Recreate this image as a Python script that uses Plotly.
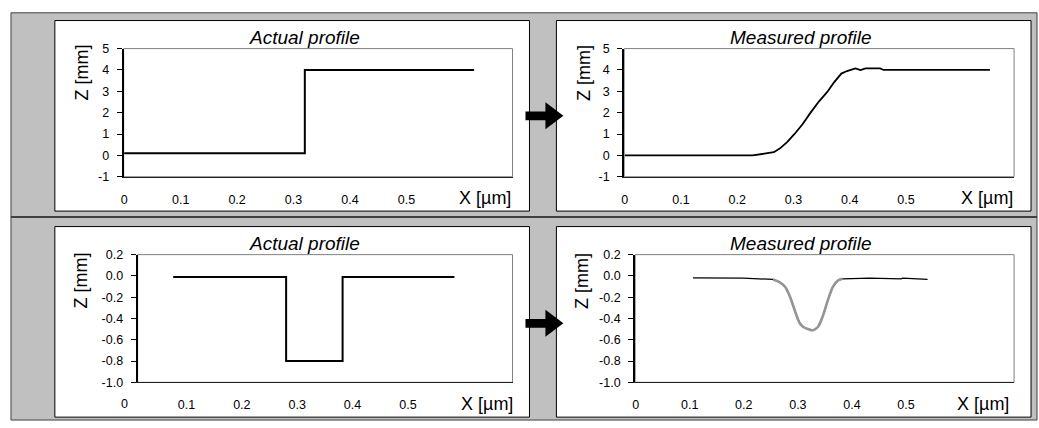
import plotly.graph_objects as go

# ---------------- data ----------------
actual_step_x = [0.0, 0.32, 0.32, 0.62]
actual_step_z = [0.1, 0.1, 4.0, 4.0]

measured_step_x = [0.0, 0.227, 0.248, 0.265, 0.276, 0.289, 0.301, 0.316, 0.330, 0.345,
                   0.360, 0.372, 0.385, 0.395, 0.410, 0.419, 0.428, 0.454, 0.460, 0.649]
measured_step_z = [0.0, 0.0, 0.08, 0.15, 0.33, 0.63, 0.98, 1.46, 1.99, 2.52,
                   2.97, 3.42, 3.83, 3.95, 4.07, 3.99, 4.07, 4.07, 4.0, 4.0]

actual_groove_x = [0.076, 0.28, 0.28, 0.382, 0.382, 0.584]
actual_groove_z = [-0.01, -0.01, -0.80, -0.80, -0.01, -0.01]

measured_groove_x = [0.106, 0.199, 0.254, 0.266, 0.276, 0.285, 0.294, 0.303, 0.310, 0.319,
                     0.328, 0.337, 0.346, 0.356, 0.365, 0.374, 0.383, 0.433, 0.491, 0.494, 0.540]
measured_groove_z = [-0.018, -0.021, -0.033, -0.058, -0.10, -0.19, -0.32, -0.44, -0.48, -0.50,
                     -0.51, -0.48, -0.38, -0.22, -0.10, -0.043, -0.027, -0.021, -0.027, -0.021, -0.033]

x_tick_vals = [0, 0.1, 0.2, 0.3, 0.4, 0.5]
x_tick_text = ["0", "0.1", "0.2", "0.3", "0.4", "0.5"]
top_y_vals = [-1, 0, 1, 2, 3, 4, 5]
top_y_text = ["-1", "0", "1", "2", "3", "4", "5"]
bot_y_vals = [-1.0, -0.8, -0.6, -0.4, -0.2, 0.0, 0.2]
bot_y_text = ["-1.0", "-0.8", "-0.6", "-0.4", "-0.2", "0.0", "0.2"]

titles = ["Actual profile", "Measured profile", "Actual profile", "Measured profile"]
z_label = "Z [mm]"
x_label = "X [\u00b5m]"

# ---------------- layout helpers ----------------
W, H = 1039, 428
def px(x):
    return x / W
def py(y):
    return 1 - y / H

FONT = "Arial, Liberation Sans, Helvetica, sans-serif"
GRAY = "#c0c0c0"

fig = go.Figure()

fig.add_trace(go.Scatter(x=actual_step_x, y=actual_step_z, mode="lines",
                         line=dict(color="black", width=2), xaxis="x", yaxis="y", showlegend=False))
fig.add_trace(go.Scatter(x=measured_step_x, y=measured_step_z, mode="lines",
                         line=dict(color="black", width=1.8), xaxis="x2", yaxis="y2", showlegend=False))
fig.add_trace(go.Scatter(x=actual_groove_x, y=actual_groove_z, mode="lines",
                         line=dict(color="black", width=2), xaxis="x3", yaxis="y3", showlegend=False))
fig.add_trace(go.Scatter(x=measured_groove_x, y=measured_groove_z, mode="lines",
                         line=dict(color="black", width=1.3), xaxis="x4", yaxis="y4", showlegend=False))
dip_idx = [i for i, v in enumerate(measured_groove_x) if 0.25 <= v <= 0.39]
fig.add_trace(go.Scatter(x=[measured_groove_x[i] for i in dip_idx],
                         y=[measured_groove_z[i] for i in dip_idx], mode="lines",
                         line=dict(color="#959595", width=2.6, shape="spline"),
                         xaxis="x4", yaxis="y4", showlegend=False))

# plot rectangles (left, top, right, bottom) in pixels
plots = {
    1: (121, 43, 511, 175.5),
    2: (623, 43, 1014, 175.5),
    3: (135, 256, 511, 388),
    4: (634, 256, 1014, 388),
}
xranges = {1: [-0.001, 0.688], 2: [-0.001, 0.692], 3: [0.0117, 0.689], 4: [-0.001, 0.70]}
yranges = {1: [-1, 5], 2: [-1, 5], 3: [-1.0, 0.2], 4: [-1.0, 0.2]}

tickfont = dict(family=FONT, size=12.5, color="black")
layout = {}
for k, (l, t, r, b) in plots.items():
    sx = "" if k == 1 else str(k)
    if k == 3:
        tv, tt = x_tick_vals[1:], x_tick_text[1:]
    else:
        tv, tt = x_tick_vals, x_tick_text
    layout["xaxis" + sx] = dict(domain=[px(l), px(r)], range=xranges[k], anchor="y" + sx,
                                tickvals=tv, ticktext=tt, ticks="", showgrid=False, zeroline=False,
                                showline=True, linecolor="#202020", linewidth=1,
                                tickfont=tickfont, ticklabelstandoff=11, fixedrange=True)
    yv, yt = (top_y_vals, top_y_text) if k <= 2 else (bot_y_vals, bot_y_text)
    layout["yaxis" + sx] = dict(domain=[py(b), py(t)], range=yranges[k], anchor="x" + sx,
                                tickvals=yv, ticktext=yt, ticks="outside", ticklen=5,
                                tickcolor="black", tickwidth=1, showgrid=False, zeroline=False,
                                showline=True, linecolor="black", linewidth=2,
                                tickfont=tickfont, ticklabelstandoff=5, fixedrange=True)

shapes = []
# outer gray frame
shapes.append(dict(type="rect", xref="paper", yref="paper", x0=px(8), x1=px(1037), y0=py(427), y1=py(6),
                   fillcolor=GRAY, line=dict(color="#404040", width=1), layer="below"))
# row separator
shapes.append(dict(type="line", xref="paper", yref="paper", x0=px(8), x1=px(1037), y0=py(217), y1=py(217),
                   line=dict(color="#404040", width=2), layer="below"))
# white panels
panels = [(52, 14, 528, 211), (555, 14, 1031, 211), (52, 227, 528, 424), (555, 227, 1031, 424)]
for (l, t, r, b) in panels:
    shapes.append(dict(type="rect", xref="paper", yref="paper", x0=px(l), x1=px(r), y0=py(b), y1=py(t),
                       fillcolor="white", line=dict(color="black", width=1), layer="below"))
# plot-area frames
for k, (l, t, r, b) in plots.items():
    shapes.append(dict(type="rect", xref="paper", yref="paper", x0=px(l), x1=px(r), y0=py(b), y1=py(t),
                       fillcolor="rgba(0,0,0,0)", line=dict(color="#808080", width=1), layer="below"))
# arrows
for yc in (112.5, 327):
    pts = [(524, yc - 4.5), (544, yc - 4.5), (544, yc - 14), (562, yc), (544, yc + 14),
           (544, yc + 4.5), (524, yc + 4.5)]
    path = "M " + " L ".join(f"{px(a):.5f},{py(c):.5f}" for a, c in pts) + " Z"
    shapes.append(dict(type="path", xref="paper", yref="paper", path=path,
                       fillcolor="black", line=dict(color="black", width=0)))

annotations = []
title_pos = [(302, 32), (800, 32), (302, 245), (800, 245)]
for (x, y), txt in zip(title_pos, titles):
    annotations.append(dict(xref="paper", yref="paper", x=px(x), y=py(y), text=f"<i>{txt}</i>",
                            showarrow=False, xanchor="center", yanchor="middle",
                            font=dict(family=FONT, size=19, color="black")))
zpos = [(79, 68), (582, 68), (78, 283), (580, 283)]
for (x, y) in zpos:
    annotations.append(dict(xref="paper", yref="paper", x=px(x), y=py(y), text=z_label,
                            textangle=-90, showarrow=False, xanchor="center", yanchor="middle",
                            font=dict(family=FONT, size=18, color="black")))
xpos = [(483, 197), (987, 197), (485, 410), (983, 410)]
for (x, y) in xpos:
    annotations.append(dict(xref="paper", yref="paper", x=px(x), y=py(y), text=x_label,
                            showarrow=False, xanchor="center", yanchor="middle",
                            font=dict(family=FONT, size=18, color="black")))
# zero label of lower-left plot (axis starts right of 0)
annotations.append(dict(xref="paper", yref="paper", x=px(122), y=py(410), text=x_tick_text[0],
                        showarrow=False, xanchor="center", yanchor="middle", font=tickfont))

fig.update_layout(width=W, height=H, margin=dict(l=0, r=0, t=0, b=0),
                  paper_bgcolor="white", plot_bgcolor="rgba(0,0,0,0)",
                  shapes=shapes, annotations=annotations, showlegend=False, **layout)

fig.write_html("out.html", config={"displayModeBar": False},
               post_script="document.body.style.margin='0px';document.body.style.padding='0px';")
